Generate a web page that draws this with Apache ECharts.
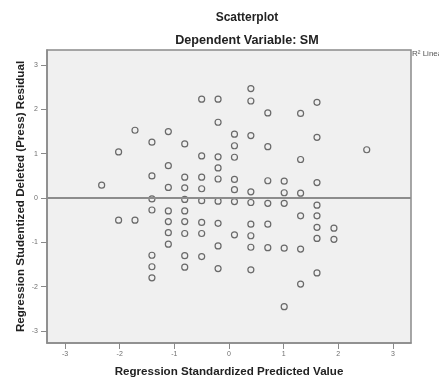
<!DOCTYPE html>
<html>
<head>
<meta charset="utf-8">
<script src="https://cdn.jsdelivr.net/npm/echarts@6/dist/echarts.min.js"></script>
<style>
  html, body { margin: 0; padding: 0; background: #ffffff; }
  #chart { width: 439px; height: 381px; }
</style>
</head>
<body>
<div id="chart"></div>
<script>
// Standardized predicted value (x) and studentized deleted residual (y) per case
const predicted = [
  -2.33,
  -2.02, -2.02,
  -1.72, -1.72,
  -1.41, -1.41, -1.41, -1.41, -1.41, -1.41, -1.41,
  -1.11, -1.11, -1.11, -1.11, -1.11, -1.11, -1.11,
  -0.81, -0.81, -0.81, -0.81, -0.81, -0.81, -0.81, -0.81, -0.81,
  -0.50, -0.50, -0.50, -0.50, -0.50, -0.50, -0.50, -0.50,
  -0.20, -0.20, -0.20, -0.20, -0.20, -0.20, -0.20, -0.20, -0.20,
  0.10, 0.10, 0.10, 0.10, 0.10, 0.10, 0.10,
  0.40, 0.40, 0.40, 0.40, 0.40, 0.40, 0.40, 0.40, 0.40,
  0.71, 0.71, 0.71, 0.71, 0.71, 0.71,
  1.01, 1.01, 1.01, 1.01, 1.01,
  1.31, 1.31, 1.31, 1.31, 1.31, 1.31,
  1.61, 1.61, 1.61, 1.61, 1.61, 1.61, 1.61, 1.61,
  1.92, 1.92,
  2.52
];
const residual = [
  0.29,
  1.04, -0.50,
  1.53, -0.50,
  1.26, 0.50, -0.02, -0.27, -1.29, -1.55, -1.80,
  1.50, 0.73, 0.24, -0.29, -0.53, -0.78, -1.04,
  1.22, 0.47, 0.23, -0.03, -0.29, -0.53, -0.80, -1.30, -1.56,
  2.23, 0.95, 0.47, 0.21, -0.06, -0.55, -0.80, -1.32,
  2.23, 1.71, 0.93, 0.68, 0.43, -0.07, -0.57, -1.08, -1.59,
  1.44, 1.18, 0.92, 0.42, 0.19, -0.08, -0.83,
  2.47, 2.19, 1.41, 0.14, -0.10, -0.59, -0.85, -1.11, -1.62,
  1.92, 1.16, 0.39, -0.12, -0.59, -1.12,
  0.38, 0.12, -0.12, -1.13, -2.45,
  1.91, 0.87, 0.11, -0.40, -1.15, -1.94,
  2.16, 1.37, 0.35, -0.16, -0.40, -0.66, -0.91, -1.69,
  -0.68, -0.93,
  1.09
];

const xTicks = [-3, -2, -1, 0, 1, 2, 3];
const yTicks = [-3, -2, -1, 0, 1, 2, 3];

const chartTitle = 'Scatterplot';
const chartSubtitle = 'Dependent Variable: SM';
const xTitle = 'Regression Standardized Predicted Value';
const yTitle = 'Regression Studentized Deleted (Press) Residual';
const legendText = 'R\u00B2 Linear';

const points = predicted.map((x, i) => [x, residual[i]]);

const FONT = '"Liberation Sans", Arial, Helvetica, sans-serif';
const chart = echarts.init(document.getElementById('chart'), null, { renderer: 'canvas' });

const tickLabelStyle = { fontFamily: FONT, fontSize: 7, color: '#6e6e6e' };
const axisNameStyle = { fontFamily: FONT, fontSize: 11.6, fontWeight: 'bold', color: '#222' };

chart.setOption({
  animation: false,
  backgroundColor: '#ffffff',
  grid: {
    left: 47, right: 28, top: 50, bottom: 38,
    containLabel: false,
    outerBoundsMode: 'none',
    show: true,
    backgroundColor: '#f0f0f0',
    borderColor: '#8a8a8a',
    borderWidth: 1.5
  },
  graphic: [
    { type: 'text', x: 247, y: 18, style: { text: chartTitle, font: 'bold 12px ' + FONT, fill: '#222', align: 'center', verticalAlign: 'middle' } },
    { type: 'text', x: 247, y: 41, style: { text: chartSubtitle, font: 'bold 12.6px ' + FONT, fill: '#222', align: 'center', verticalAlign: 'middle' } },
    { type: 'text', x: 412, y: 54, style: { text: legendText, font: '8px ' + FONT, fill: '#555', align: 'left', verticalAlign: 'middle' } }
  ],
  xAxis: {
    type: 'value',
    min: -3.33, max: 3.33,
    name: xTitle,
    nameLocation: 'middle',
    nameGap: 23,
    nameMoveOverlap: false,
    nameTextStyle: axisNameStyle,
    axisLine: { show: true, onZero: false, lineStyle: { color: '#8a8a8a', width: 1.5 } },
    axisTick: { show: true, length: 6, customValues: xTicks, lineStyle: { color: '#8a8a8a' } },
    axisLabel: Object.assign({ customValues: xTicks, margin: 8 }, tickLabelStyle),
    splitLine: { show: false }
  },
  yAxis: {
    type: 'value',
    min: -3.27, max: 3.34,
    name: yTitle,
    nameLocation: 'middle',
    nameGap: 20,
    nameMoveOverlap: false,
    nameTextStyle: axisNameStyle,
    axisLine: { show: true, onZero: false, lineStyle: { color: '#8a8a8a', width: 1.5 } },
    axisTick: { show: true, length: 6, customValues: yTicks, lineStyle: { color: '#8a8a8a' } },
    axisLabel: Object.assign({ customValues: yTicks, margin: 9 }, tickLabelStyle),
    splitLine: { show: false }
  },
  series: [{
    type: 'scatter',
    data: points,
    symbol: 'circle',
    symbolSize: 6,
    itemStyle: { color: 'rgba(0,0,0,0)', borderColor: '#474747', borderWidth: 1.2 },
    markLine: {
      silent: true,
      symbol: 'none',
      label: { show: false },
      lineStyle: { color: '#8c8c8c', width: 2, type: 'solid' },
      data: [{ yAxis: 0 }]
    }
  }]
});
</script>
</body>
</html>
